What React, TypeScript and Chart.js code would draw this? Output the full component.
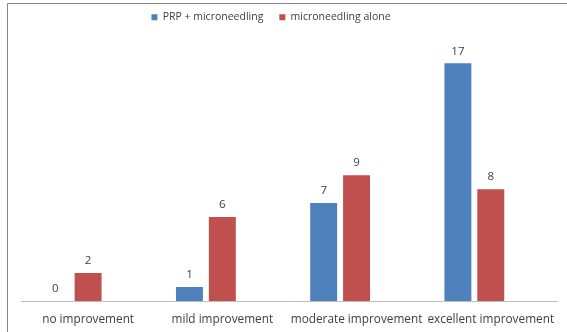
import React, { useEffect, useRef } from "react";
import { Chart, registerables } from "chart.js";

Chart.register(...registerables);

const categories = ["no improvement", "mild improvement", "moderate improvement", "excellent improvement"];
const prpMicroneedling = [0, 1, 7, 17];
const microneedlingAlone = [2, 6, 9, 8];
const emptySeries = [null, null, null, null];
const seriesNames = ["PRP + microneedling", "microneedling alone"];

const FONT = "'Open Sans', 'Liberation Sans', sans-serif";

const framePlugin = {
  id: "frame",
  beforeDraw(chart: any) {
    const ctx = chart.ctx;
    ctx.save();
    ctx.fillStyle = "#ffffff";
    ctx.fillRect(0, 0, chart.width, chart.height);
    ctx.strokeStyle = "#868686";
    ctx.lineWidth = 1;
    ctx.beginPath();
    ctx.moveTo(7.5, chart.height);
    ctx.lineTo(7.5, 3.5);
    ctx.lineTo(chart.width, 3.5);
    ctx.stroke();
    ctx.restore();
  },
};

const labelPlugin = {
  id: "barLabels",
  afterDatasetsDraw(chart: any) {
    const ctx = chart.ctx;
    ctx.save();
    ctx.font = `11.5px ${FONT}`;
    ctx.fillStyle = "#404040";
    ctx.textAlign = "center";
    ctx.textBaseline = "middle";
    chart.data.datasets.forEach((ds: any, i: number) => {
      if (ds.hiddenSeries) return;
      const meta = chart.getDatasetMeta(i);
      meta.data.forEach((bar: any, j: number) => {
        const v = ds.data[j];
        if (v === null || v === undefined) return;
        ctx.fillText(String(v), bar.x, bar.y - 12);
      });
    });
    ctx.restore();
  },
};

export default function App() {
  const ref = useRef<HTMLCanvasElement>(null);
  useEffect(() => {
    if (!ref.current) return;
    const chart = new Chart(ref.current, {
      type: "bar",
      data: {
        labels: categories,
        datasets: [
          {
            label: seriesNames[0],
            data: prpMicroneedling,
            backgroundColor: "#4F81BD",
            borderWidth: 0,
          },
          {
            label: seriesNames[1],
            data: microneedlingAlone,
            backgroundColor: "#C0504D",
            borderWidth: 0,
          },
          {
            label: "",
            data: emptySeries as any,
            backgroundColor: "#9BBB59",
            hiddenSeries: true,
          } as any,
        ],
      },
      options: {
        animation: false,
        responsive: false,
        maintainAspectRatio: false,
        categoryPercentage: 0.735,
        barPercentage: 0.82,
        layout: { padding: { left: -18, right: 7, top: -4, bottom: 0 } },
        scales: {
          x: {
            grid: { display: false, drawTicks: false },
            border: { display: true, color: "#BFBFBF", width: 1 },
            ticks: { color: "#404040", font: { family: FONT, size: 11.8 }, padding: 12, maxRotation: 0, autoSkip: false },
            afterFit: (scale: any) => {
              scale.height = 31;
            },
          },
          y: {
            display: true,
            min: 0,
            max: 19.2,
            grid: { display: false, drawTicks: false },
            border: { display: false },
            ticks: { display: false },
            afterFit: (scale: any) => {
              scale.width = 39;
            },
          },
        },
        plugins: {
          legend: {
            position: "top",
            labels: {
              boxWidth: 6,
              boxHeight: 6,
              padding: 16,
              color: "#404040",
              font: { family: FONT, size: 10.5 },
              filter: (item: any) => item.text !== "",
            },
          },
          tooltip: { enabled: false },
        },
      },
      plugins: [framePlugin, labelPlugin],
    });
    return () => chart.destroy();
  }, []);
  return (
    <div style={{ position: "fixed", left: 0, top: 0, width: 567, height: 332 }}>
      <canvas ref={ref} width={567} height={332} style={{ width: 567, height: 332 }} />
    </div>
  );
}
